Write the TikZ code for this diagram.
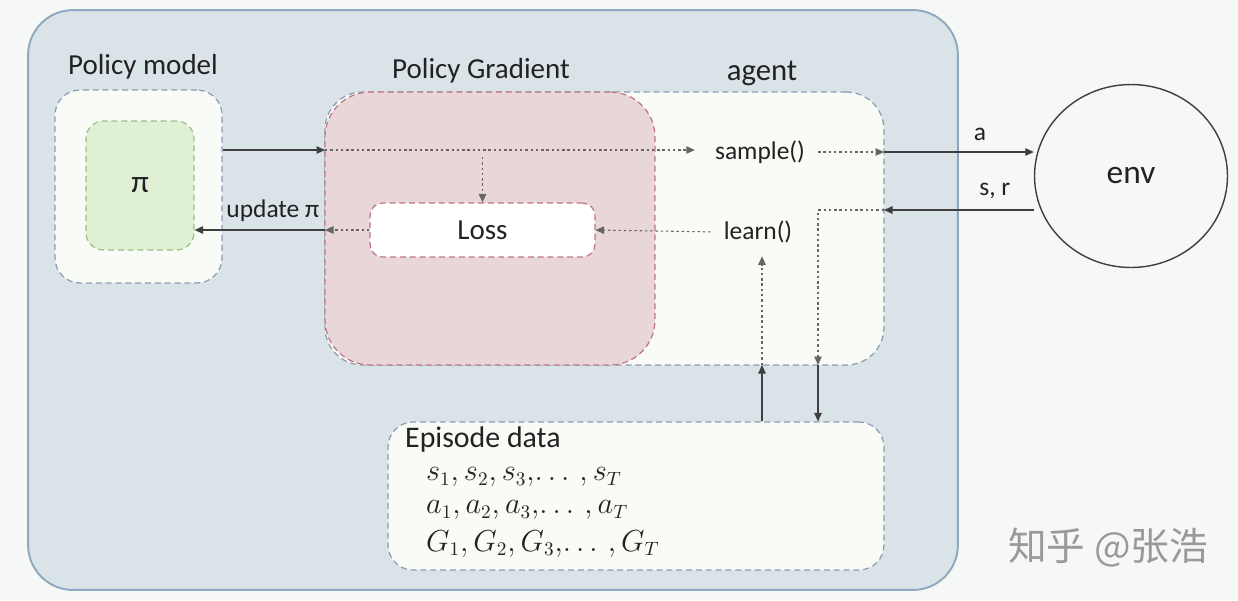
\documentclass[tikz,border=0pt]{standalone}
\usepackage{fontspec}
\setmainfont{Carlito}
\newfontfamily\cjk{Noto Sans CJK SC}
\usepackage{tikz}
\usetikzlibrary{positioning,arrows.meta,shapes.geometric}
\definecolor{paper}{HTML}{F6F8F5}
\definecolor{shell}{HTML}{DAE3E8}
\definecolor{shellline}{HTML}{8EA8BF}
\definecolor{boxfill}{HTML}{F8FBF6}
\definecolor{boxline}{HTML}{8C9DB1}
\definecolor{pifill}{HTML}{DFF0D5}
\definecolor{piline}{HTML}{9CC088}
\definecolor{pgfill}{HTML}{E9D6D8}
\definecolor{pgline}{HTML}{BF7683}
\definecolor{ink}{HTML}{222222}
\definecolor{wire}{HTML}{3F3F3F}

\begin{document}
\begin{tikzpicture}[x=0.02cm, y=-0.02cm, font=\fontsize{14.5}{17}\selectfont, text=ink,
    tip/.style={-{Triangle[length=1.7mm,width=1.5mm]}},
    solidarrow/.style={tip, draw=wire, line width=0.6pt},
    dotarrow/.style={tip, draw=wire!80, line width=0.6pt, dash pattern=on 1.4pt off 1.6pt},
    dashbox/.style={draw=boxline, fill=boxfill, line width=0.7pt, dash pattern=on 3.4pt off 2.2pt, inner sep=0pt},
    title/.style={font=\fontsize{16.5}{19}\selectfont}]
  \useasboundingbox[fill=paper] (0,0) rectangle (1238,600);
  \node[draw=shellline, fill=shell, line width=1.1pt, rounded corners=0.9cm, minimum width=18.6cm, minimum height=11.6cm] (main) at (493,300) {};

  % policy model
  \node[title] (pmtitle) at (143,67) {Policy model};
  \node[dashbox, rounded corners=0.5cm, minimum width=3.34cm, minimum height=3.86cm] (pm) at (138.5,186.5) {};
  \node[dashbox, draw=piline, fill=pifill, rounded corners=0.35cm, minimum width=2.16cm, minimum height=2.58cm, font=\fontsize{18}{21}\selectfont] (pi) at (140,185.5) {π};

  % agent + policy gradient
  \node[dashbox, rounded corners=0.75cm, minimum width=11.18cm, minimum height=5.46cm] (agent) at (604.5,228.5) {};
  \node[dashbox, draw=pgline, fill=pgfill, rounded corners=0.9cm, minimum width=6.6cm, minimum height=5.46cm] (pg) at (490,228.5) {};
  \node[title] (pgtitle) at (481,71) {Policy Gradient};
  \node[font=\fontsize{17.5}{20}\selectfont] (agtitle) at (762,73) {agent};
  \node[dashbox, draw=pgline, fill=white, rounded corners=0.25cm, minimum width=4.5cm, minimum height=1.08cm, font=\fontsize{16.5}{19}\selectfont] (loss) at (482.5,230) {Loss};
  \node (sample) at (760,152) {sample()};
  \node (learn) at (758,232) {learn()};

  % env
  \node[draw=wire, line width=0.8pt, ellipse, minimum width=3.86cm, minimum height=3.66cm, font=\fontsize{19}{22}\selectfont] (env) at (1131,176) {env};

  % episode data
  \node[dashbox, rounded corners=0.5cm, minimum width=9.92cm, minimum height=2.96cm] (ep) at (636,496) {};
  \node[anchor=west, font=\fontsize{17}{20}\selectfont] (eptitle) at (399,440) {Episode data};
  \foreach \v/\yy in {s/477,a/510,G/544}
    \node[anchor=west, font=\fontsize{16}{19}\selectfont] (ep-\v) at (420,\yy) {$\v_1, \v_2, \v_3,\!\ldots\,, \v_T$};

  % connectors
  \coordinate (pgin) at (325,150);
  \coordinate (pgout) at (325,230);
  \coordinate (agout) at (884,152);
  \coordinate (agin) at (884,210);
  \coordinate (agdown) at (818,365);
  \coordinate (agup) at (762,365);
  \draw[solidarrow] (pm.east |- pgin) -- (pgin);
  \draw[dotarrow, shorten >=8pt] (pgin) -- (sample.west |- pgin);
  \draw[dotarrow, shorten <=4pt] (sample.east |- agout) -- (agout);
  \draw[dotarrow, shorten <=4pt] (loss.north |- pgin) -- (loss.north);
  \draw[solidarrow] (agout) -- (env.west |- agout) node[pos=0.64, above=3pt] {a};
  \draw[solidarrow] (env.west |- agin) -- (agin) node[pos=0.26, above=3pt] {s, r};
  \draw[dotarrow] (agin) -| (agdown);
  \draw[solidarrow] (agdown) -- (agdown |- ep.north);
  \draw[solidarrow] (ep.north -| agup) -- (agup);
  \draw[dotarrow, shorten >=4pt] (agup) -- (agup |- learn.south);
  \draw[dotarrow, shorten <=4pt] (learn.west) -- (loss.east);
  \draw[dotarrow] (loss.west) -- (pgout);
  \draw[solidarrow] (pgout) -- (pi.east |- pgout) node[pos=0.4, above=1pt] {update π};

  \node[text=black!40, font=\cjk\fontsize{22}{26}\selectfont] (mark) at (1108,548) {知乎 @张浩};
\end{tikzpicture}
\end{document}
